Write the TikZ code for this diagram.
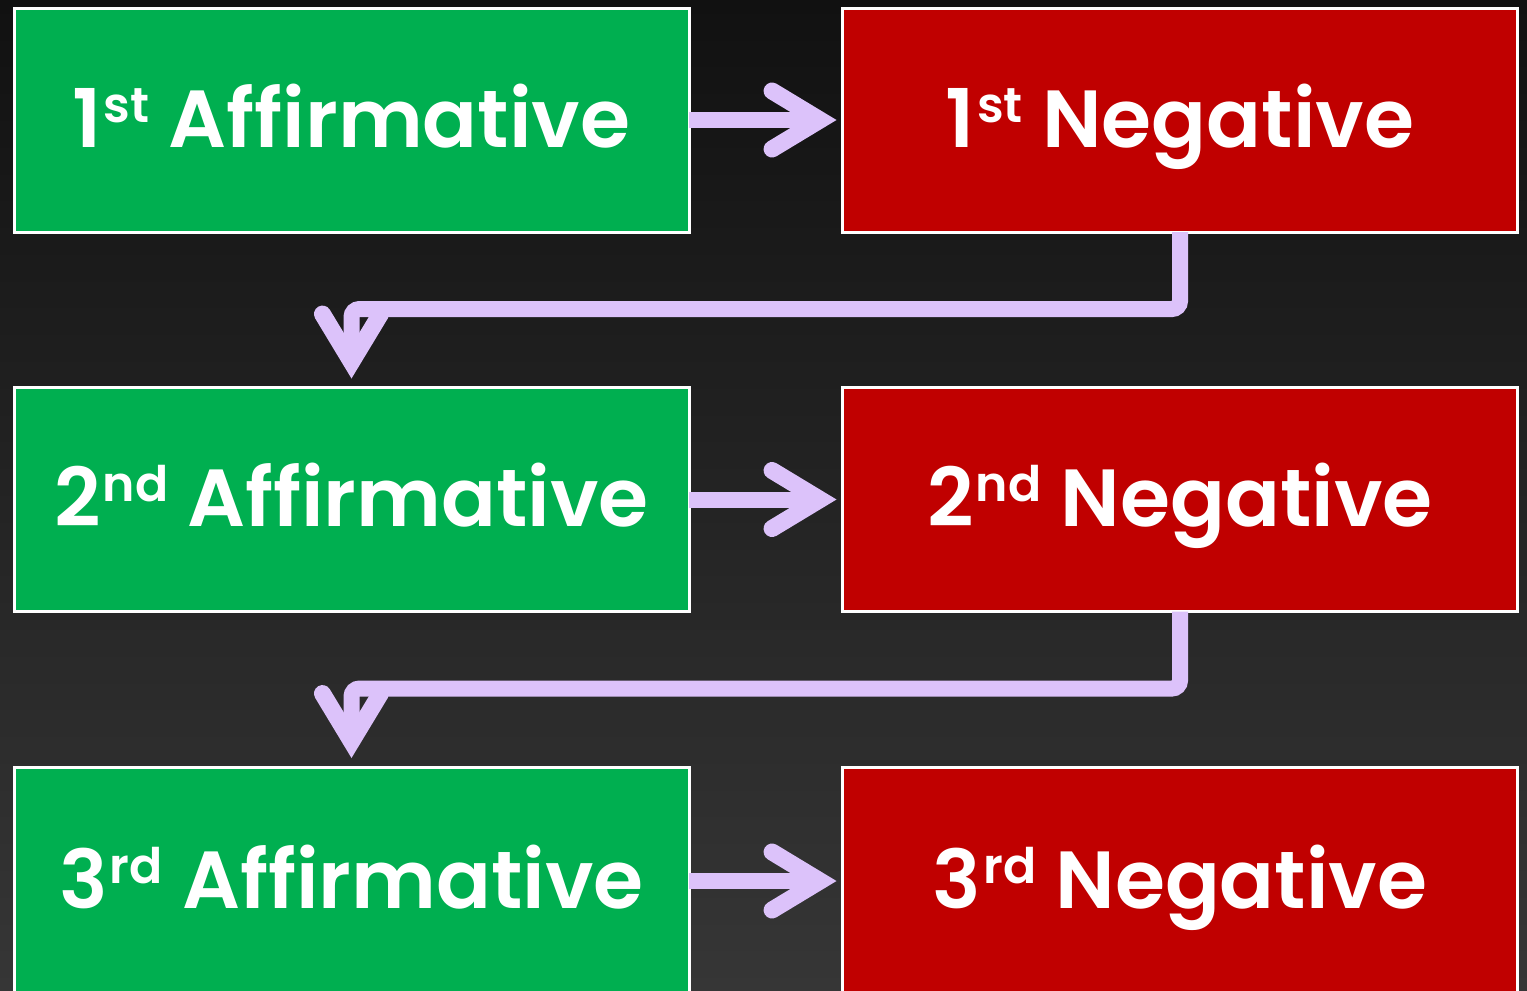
\documentclass[tikz,border=0pt]{standalone}
\usepackage{fontspec}
\usetikzlibrary{arrows.meta,calc}
\newfontfamily\labfont{Poppins SemiBold}
\definecolor{bgtop}{HTML}{111111}
\definecolor{bgbot}{HTML}{363636}
\definecolor{affgreen}{HTML}{00AF50}
\definecolor{negred}{HTML}{C00000}
\definecolor{lav}{HTML}{DCC2FA}
\newcommand\sups[1]{\hspace{2pt}\raisebox{25pt}{\fontsize{49}{49}\selectfont #1}}
\begin{document}
\begin{tikzpicture}[x=1pt,y=-1pt,
  box/.style={draw=white,line width=3pt,minimum width=675pt,minimum height=224pt,
    inner sep=0pt,outer sep=0pt,text=white,text height=64pt,text depth=10pt,
    font=\labfont\fontsize{81}{100}\selectfont},
  aff/.style={box,fill=affgreen},
  neg/.style={box,fill=negred},
  conn/.style={draw=lav,line width=16pt,
    -{Straight Barb[length=48pt,width=58pt,line width=17pt,line cap=round,line join=miter]}},
]
\useasboundingbox (0,0) rectangle (1527,991);
\clip (0,0) rectangle (1527,991);
\shade[top color=bgtop,bottom color=bgbot] (0,0) rectangle (1527,991);

\node[aff] (A1) at (351.5,120) {1\sups{st} Affirmative};
\node[neg] (N1) at (1180,120) {1\sups{st} Negative};
\node[aff] (A2) at (351.5,499.5) {2\sups{nd} Affirmative};
\node[neg] (N2) at (1180,499.5) {2\sups{nd} Negative};
\node[aff,minimum height=228pt] (A3) at (351.5,881) {3\sups{rd} Affirmative};
\node[neg,minimum height=228pt] (N3) at (1180,881) {3\sups{rd} Negative};

\draw[conn,shorten >=6pt] (A1.east) -- (N1.west);
\draw[conn,shorten >=6pt] (A2.east) -- (N2.west);
\draw[conn,shorten >=6pt] (A3.east) -- (N3.west);
\draw[conn,rounded corners=8pt,shorten >=9pt] (N1.south) -- ++(0,77) -| (A2.north);
\draw[conn,rounded corners=8pt,shorten >=9pt] (N2.south) -- ++(0,77) -| (A3.north);
\end{tikzpicture}
\end{document}
